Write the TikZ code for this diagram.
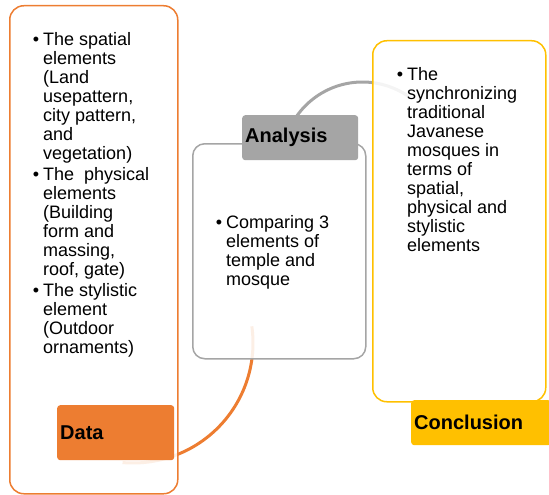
\documentclass[tikz,border=0pt]{standalone}
\usepackage{fontspec}
\setmainfont{Liberation Sans}
\definecolor{dataorange}{HTML}{ED7D31}
\definecolor{anagray}{HTML}{A5A5A5}
\definecolor{concyellow}{HTML}{FFC000}
\tikzset{
  panel/.style={draw, line width=1.5pt, fill=white, fill opacity=0.88,
    anchor=north west, inner sep=0pt},
  tag/.style={anchor=north west, inner xsep=3pt, inner ysep=0pt,
    rounded corners=3pt, align=left,
    font=\fontsize{20}{24}\selectfont\bfseries},
  bodytext/.style={anchor=north west, inner sep=0pt, align=left,
    font=\fontsize{18}{19}\selectfont},
  flow/.style={line width=3pt},
}
\newcommand{\bul}{\llap{\textbullet\hspace{4pt}}}
\begin{document}
\begin{tikzpicture}[x=1pt,y=-1pt]
\useasboundingbox (0,0) rectangle (549,495);

% curved connectors, drawn first so the panels veil their ends
\draw[flow, dataorange] plot[domain=95:-8, samples=60]
  ({133+120*cos(\x)}, {343+120*sin(\x)});
\draw[flow, anagray] plot[domain=-155:-55, samples=60]
  ({362.5+80.5*cos(\x)}, {162.5+80.5*sin(\x)});

% panels
\node[panel, draw=dataorange, rounded corners=14pt,
  minimum width=168pt, minimum height=488pt] (datapanel) at (9,5) {};
\node[panel, draw=anagray, rounded corners=12pt,
  minimum width=173pt, minimum height=215pt] (anapanel) at (192,143) {};
\node[panel, draw=concyellow, rounded corners=14pt,
  minimum width=173pt, minimum height=361pt] (concpanel) at (372,40) {};

% headings
\node[tag, fill=dataorange, text width=111pt, minimum height=55pt]
  (datatag) at (57,405) {Data};
\node[tag, fill=anagray, text width=110pt, minimum height=45pt]
  (anatag) at (242,115) {Analysis};
\node[tag, fill=concyellow, text width=134pt, minimum height=45pt]
  (conctag) at (411,400) {Conclusion};

% bullet texts
\node[bodytext] (datatext) at (43,32) {%
  \bul The spatial\\ elements\\ (Land\\ usepattern,\\ city pattern,\\ and\\ vegetation)\\[2pt]
  \bul The\ \ physical\\ elements\\ (Building\\ form and\\ massing,\\ roof, gate)\\[2pt]
  \bul The stylistic\\ element\\ (Outdoor\\ ornaments)};
\node[bodytext] (anatext) at (226,215) {%
  \bul Comparing 3\\ elements of\\ temple and\\ mosque};
\node[bodytext] (conctext) at (407,67) {%
  \bul The\\ synchronizing\\ traditional\\ Javanese\\ mosques in\\ terms of\\ spatial,\\ physical and\\ stylistic\\ elements};
\end{tikzpicture}
\end{document}
